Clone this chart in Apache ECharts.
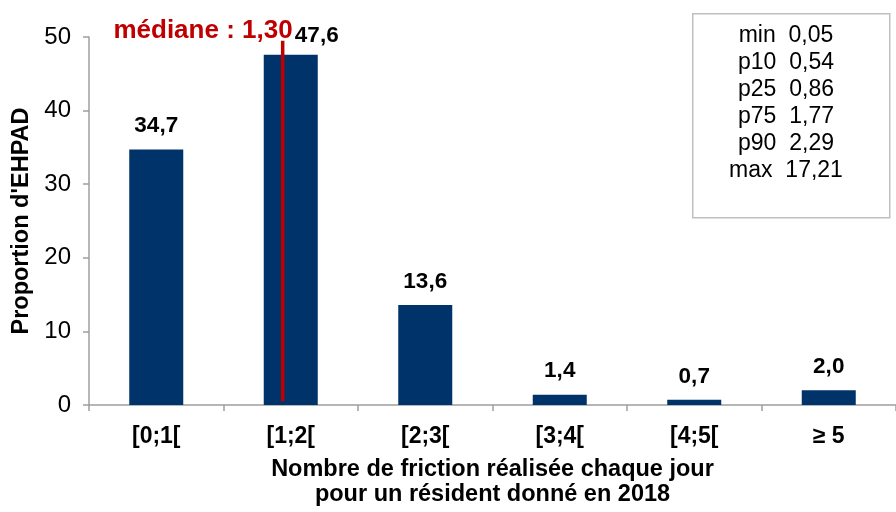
<!DOCTYPE html>
<html>
<head>
<meta charset="utf-8">
<script src="https://cdn.jsdelivr.net/npm/echarts@6/dist/echarts.min.js"></script>
<style>html,body{margin:0;padding:0;background:#fff}#c{width:896px;height:512px}</style>
</head>
<body>
<div id="c"></div>
<script>
// ---- data ----
const categories = ['[0;1[', '[1;2[', '[2;3[', '[3;4[', '[4;5[', '\u2265 5'];
const proportions = [34.7, 47.6, 13.6, 1.4, 0.7, 2.0];
const yTicks = [0, 10, 20, 30, 40, 50];
const statNames = ['min', 'p10', 'p25', 'p75', 'p90', 'max'];
const statValues = ['0,05', '0,54', '0,86', '1,77', '2,29', '17,21'];
const medianLabel = 'médiane : 1,30';
// position of the median marker on the class axis (as drawn in the picture), and its vertical span
const medianDrawnAt = [1.44];
const medianSpan = [0.5, 49.5];

const FONT = '"Liberation Sans", Arial, sans-serif';
const fmt = v => v.toFixed(1).replace('.', ',');

const chart = echarts.init(document.getElementById('c'), null, {renderer: 'canvas'});
const barData = proportions.map((v, i) => {
  const d = {value: v};
  if (i === 1) d.label = {offset: [26, 5]};
  return d;
});
const medianData = medianSpan.map((y, i) => {
  const d = {value: [medianDrawnAt[0], y]};
  if (i === 1) d.label = {
    show: true, position: 'left', distance: 0, offset: [10, -10],
    formatter: medianLabel, color: '#c00000', fontSize: 26, fontWeight: 'bold', fontFamily: FONT
  };
  return d;
});

chart.setOption({
  animation: false,
  backgroundColor: '#fff',
  grid: {left: 89, right: -7, top: 37, bottom: 105},
  xAxis: [{
    type: 'category', data: categories,
    axisLine: {lineStyle: {color: '#9f9f9f', width: 1.5}},
    axisTick: {show: true, length: 6, lineStyle: {color: '#9f9f9f', width: 1.5}},
    axisLabel: {color: '#000', fontSize: 23, fontWeight: 'bold', fontFamily: FONT, margin: 20},
    name: 'Nombre de friction réalisée chaque jour\npour un résident donné en 2018',
    nameLocation: 'middle', nameGap: 52,
    nameTextStyle: {color: '#000', fontSize: 23.5, fontWeight: 'bold', fontFamily: FONT, lineHeight: 25}
  }, {
    type: 'value', min: 0, max: categories.length, show: false
  }],
  yAxis: {
    type: 'value', min: yTicks[0], max: yTicks[yTicks.length - 1], interval: 10,
    splitLine: {show: false},
    axisLine: {show: true, lineStyle: {color: '#9f9f9f', width: 1.5}},
    axisTick: {show: true, length: 6, lineStyle: {color: '#9f9f9f', width: 1.5}},
    axisLabel: {color: '#000', fontSize: 24, fontFamily: FONT, margin: 18},
    name: "Proportion d'EHPAD", nameLocation: 'middle', nameGap: 53,
    nameTextStyle: {color: '#000', fontSize: 23.5, fontWeight: 'bold', fontFamily: FONT,
      padding: [0, 0, 0, 0], align: 'center'}
  },
  series: [{
    type: 'bar', data: barData, barWidth: 54, xAxisIndex: 0,
    itemStyle: {color: '#00336a'},
    label: {show: true, position: 'top', distance: 12, color: '#000', fontSize: 22.5,
      fontWeight: 'bold', fontFamily: FONT, formatter: p => fmt(p.value)}
  }, {
    type: 'line', xAxisIndex: 1, data: medianData, z: 5,
    symbol: 'circle', symbolSize: 0.1, showSymbol: true,
    lineStyle: {color: '#c00000', width: 3.5},
    itemStyle: {color: '#c00000'}
  }],
  graphic: [{
    type: 'rect', left: 692, top: 13, z: 10,
    shape: {width: 197, height: 204},
    style: {fill: '#fff', stroke: '#bfbfbf', lineWidth: 1.5}
  }, {
    type: 'text', x: 786, y: 22, z: 11,
    style: {
      text: statNames.map((n, i) => n + '  ' + statValues[i]).join('\n'),
      align: 'center', verticalAlign: 'top', lineHeight: 27,
      font: '23px ' + FONT, fill: '#000'
    }
  }]
});
</script>
</body>
</html>
